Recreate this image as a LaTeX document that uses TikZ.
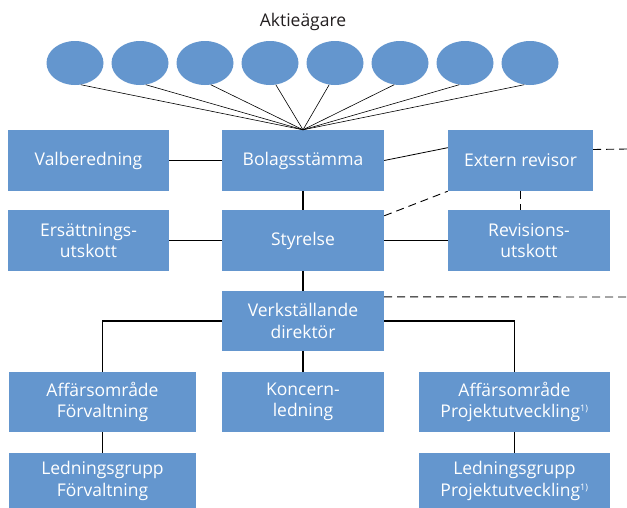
\documentclass[tikz,border=0pt]{standalone}
\usepackage{fontspec}
\setmainfont{Open Sans}
\usetikzlibrary{shapes.geometric}
\definecolor{orgblue}{HTML}{6496CE}
\definecolor{inktext}{HTML}{231F20}
\newcommand{\fotnot}{\textsuperscript{\fontsize{9}{9}\selectfont 1)}}

\begin{document}
\begin{tikzpicture}[x=1pt,y=-1pt,
  box/.style={fill=orgblue,text=white,align=center,inner sep=0pt,
    font=\fontsize{17.5}{21.5}\selectfont},
  owner/.style={ellipse,fill=orgblue,minimum width=57pt,minimum height=44pt,inner sep=0pt},
  link/.style={line width=1.3pt,black},
  thinlink/.style={line width=.8pt,black},
  fan/.style={line width=.6pt,black},
  dashlink/.style={line width=.9pt,black,dash pattern=on 8pt off 5pt}]
\useasboundingbox (0,0) rectangle (627,507);
\fill[white] (0,0) rectangle (627,507);

% SHAREHOLDERS
\node[text=inktext,font=\fontsize{17.5}{21}\selectfont] (aktie) at (303,22) {Aktieägare};
\foreach \i in {1,...,8}
  \node[owner] (e\i) at (75+65*\i-65,63) {};

% GOVERNANCE LEVEL
\node[box,minimum width=161pt,minimum height=61pt] (valb) at (88.5,160.5) {Valberedning};
\node[box,minimum width=162pt,minimum height=61pt] (bolag) at (303,160.5) {Bolagsstämma};
\node[box,minimum width=145pt,minimum height=61pt] (extern) at (520.5,160.5) {Extern revisor};
\node[box,minimum width=161pt,minimum height=61pt] (ersatt) at (88.5,240.5) {Ersättnings-\\utskott};
\node[box,minimum width=162pt,minimum height=61pt] (styr) at (303,240.5) {Styrelse};
\node[box,minimum width=162pt,minimum height=61pt] (revis) at (529,240.5) {Revisions-\\utskott};

% MANAGEMENT LEVEL
\node[box,minimum width=162pt,minimum height=60pt] (vd) at (303,321) {Verkställande\\direktör};
\node[box,minimum width=187pt,minimum height=60pt] (affforv) at (102.5,402) {Affärsområde\\Förvaltning};
\node[box,minimum width=162pt,minimum height=60pt] (koncern) at (303,402) {Koncern-\\ledning};
\node[box,minimum width=191pt,minimum height=60pt] (affproj) at (514.5,402) {Affärsområde\\Projektutveckling\fotnot};
\node[box,minimum width=187pt,minimum height=56pt] (lednforv) at (102.5,481) {Ledningsgrupp\\Förvaltning};
\node[box,minimum width=191pt,minimum height=56pt] (lednproj) at (514.5,481) {Ledningsgrupp\\Projektutveckling\fotnot};

% free ends of the dashed lines at the right margin
\coordinate (rimtop) at (627,149);
\coordinate (rimvd) at (627,297);

% CONNECTORS
\foreach \i in {1,...,4}
  \draw[fan] (e\i.-75) -- (bolag.north);
\foreach \i in {5,...,8}
  \draw[fan] (e\i.-105) -- (bolag.north);

\draw[link] (valb) -- (bolag);
\draw[thinlink] (bolag.east) -- (extern.170);
\draw[link] (bolag) -- (styr);
\draw[link] (ersatt) -- (styr);
\draw[link] (styr) -- (revis);
\draw[link] (styr) -- (vd);
\draw[dashlink] ([yshift=11pt]extern.east) -- (rimtop);
\draw[dashlink] ([yshift=-6pt]styr.north east) -- (extern.south west);
\draw[dashlink] (extern.south) -- (extern.south |- revis.north);
\draw[dashlink] ([yshift=-6pt]vd.north east) -- (rimvd);

\draw[link] (vd.west) -| (affforv.north);
\draw[link] (vd.east) -| (affproj.north);
\draw[link] (vd) -- (koncern);
\draw[link] (affforv) -- (lednforv);
\draw[link] (affproj) -- (lednproj);
\end{tikzpicture}
\end{document}
